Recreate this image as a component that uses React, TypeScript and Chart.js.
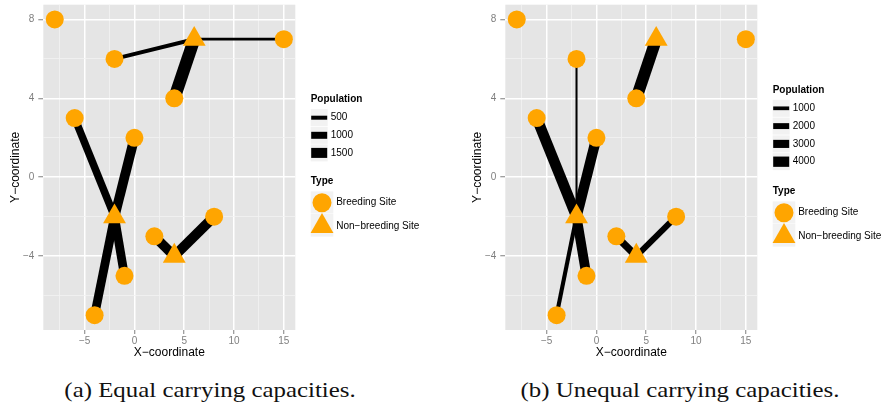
import React, { useEffect, useRef } from 'react';
import { Chart, registerables } from 'chart.js';

Chart.register(...registerables);

// ---------------- data ----------------
const breedingX = [-8, -2, 15, 4, -6, 0, -1, -4, 2, 8];
const breedingY = [8, 6, 7, 4, 3, 2, -5, -7, -3, -2];
const nonBreedingX = [6, -2, 4];
const nonBreedingY = [7, -2, -4];

// panel (a): edges breeding index -> non-breeding index, population
const edgesAFrom = [1, 2, 3, 4, 5, 6, 7, 8, 9];
const edgesATo = [0, 0, 0, 1, 1, 1, 1, 2, 2];
const edgesAPop = [500, 300, 1900, 1100, 1450, 1300, 1300, 1450, 1500];

// panel (b)
const edgesBFrom = [1, 3, 4, 5, 6, 7, 8, 9];
const edgesBTo = [1, 0, 1, 1, 1, 1, 2, 2];
const edgesBPop = [250, 4700, 4200, 4000, 3800, 1200, 2600, 2100];

const popLegendA = [500, 1000, 1500];
const popLegendB = [1000, 2000, 3000, 4000];
const typeLabels = ['Breeding Site', 'Non\u2212breeding Site'];

const xMajorTicks = [-5, 0, 5, 10, 15];
const xGridValues = [-7.5, -5, -2.5, 0, 2.5, 5, 7.5, 10, 12.5, 15];
const yMajorTicks = [-4, 0, 4, 8];
const yGridValues = [-6, -4, -2, 0, 2, 4, 6, 8];

const captionA = '(a) Equal carrying capacities.';
const captionB = '(b) Unequal carrying capacities.';

// ---------------- styles ----------------
const SANS = '"Liberation Sans", Arial, Helvetica, sans-serif';
const ORANGE = '#FFA500';
const CW = 426;
const CH = 362;

const fmt = (v: number) => (v < 0 ? '\u2212' + Math.abs(v) : String(v));

type LegendCfg = {
  keys: number[];
  lw: (p: number) => number;
  popTitleY: number;
  firstRowY: number;
  rowStep: number;
  typeTitleY: number;
};

function drawLegend(chart: any, cfg: LegendCfg) {
  const ctx: CanvasRenderingContext2D = chart.ctx;
  const x0 = 310.7;
  ctx.save();
  ctx.textBaseline = 'middle';
  ctx.textAlign = 'left';
  ctx.fillStyle = '#000';
  ctx.font = `bold 10px ${SANS}`;
  ctx.fillText('Population', x0, cfg.popTitleY);
  cfg.keys.forEach((p, i) => {
    const cy = cfg.firstRowY + i * cfg.rowStep;
    ctx.fillStyle = '#F2F2F2';
    ctx.fillRect(x0, cy - 8.5, 17, 17);
    ctx.fillStyle = '#000';
    const w = cfg.lw(p);
    ctx.fillRect(x0 + 0.5, cy - w / 2, 16, w);
    ctx.font = `10px ${SANS}`;
    ctx.fillText(String(p), x0 + 20, cy);
  });
  ctx.font = `bold 10px ${SANS}`;
  ctx.fillStyle = '#000';
  ctx.fillText('Type', x0, cfg.typeTitleY);
  const k = 22.6;
  const r1 = cfg.typeTitleY + 21;
  const r2 = r1 + k;
  ctx.fillStyle = '#F2F2F2';
  ctx.fillRect(x0, r1 - k / 2, k, k - 0.5);
  ctx.fillRect(x0, r2 - k / 2, k, k);
  ctx.fillStyle = ORANGE;
  ctx.beginPath();
  ctx.arc(x0 + k / 2, r1, 9.5, 0, Math.PI * 2);
  ctx.fill();
  const tr = 13.2;
  const cx = x0 + k / 2;
  const cy = r2 + 1;
  ctx.beginPath();
  for (let i = 0; i < 3; i++) {
    const a = (i * 2 * Math.PI) / 3;
    const px = cx + Math.sin(a) * tr;
    const py = cy - Math.cos(a) * tr;
    if (i === 0) ctx.moveTo(px, py);
    else ctx.lineTo(px, py);
  }
  ctx.closePath();
  ctx.fill();
  ctx.fillStyle = '#000';
  ctx.font = `10px ${SANS}`;
  ctx.fillText(typeLabels[0], x0 + 25.5, r1);
  ctx.fillText(typeLabels[1], x0 + 25.5, r2 + 0.5);
  ctx.restore();
}

type PanelProps = {
  from: number[];
  to: number[];
  pops: number[];
  legend: LegendCfg;
  left: number;
};

function Panel({ from, to, pops, legend, left }: PanelProps) {
  const ref = useRef<HTMLCanvasElement | null>(null);
  useEffect(() => {
    if (!ref.current) return;
    const edgeSets = from.map((b, i) => ({
      type: 'line' as const,
      data: [
        { x: breedingX[b], y: breedingY[b] },
        { x: nonBreedingX[to[i]], y: nonBreedingY[to[i]] },
      ],
      showLine: true,
      borderColor: '#000',
      borderWidth: legend.lw(pops[i]),
      borderCapStyle: 'butt' as const,
      pointRadius: 0,
      pointHoverRadius: 0,
      fill: false,
      order: 2,
    }));
    const datasets: any[] = [
      {
        type: 'scatter',
        data: breedingX.map((x, i) => ({ x, y: breedingY[i] })),
        pointStyle: 'circle',
        pointRadius: 9,
        pointHoverRadius: 9,
        backgroundColor: ORANGE,
        borderWidth: 0,
        order: 0,
      },
      {
        type: 'scatter',
        data: nonBreedingX.map((x, i) => ({ x, y: nonBreedingY[i] })),
        pointStyle: 'triangle',
        pointRadius: 13.2,
        pointHoverRadius: 13.2,
        backgroundColor: ORANGE,
        borderWidth: 0,
        order: 1,
      },
      ...edgeSets,
    ];
    const bgPlugin = {
      id: 'panelBg',
      beforeDraw(chart: any) {
        const { ctx, chartArea } = chart;
        ctx.save();
        ctx.fillStyle = '#E5E5E5';
        ctx.fillRect(chartArea.left, chartArea.top, chartArea.right - chartArea.left, chartArea.bottom - chartArea.top);
        ctx.restore();
      },
      afterDraw(chart: any) {
        drawLegend(chart, legend);
      },
    };
    const chart = new Chart(ref.current, {
      type: 'scatter',
      data: { datasets },
      plugins: [bgPlugin],
      options: {
        responsive: false,
        animation: false,
        events: [],
        layout: { autoPadding: false, padding: { left: 0, top: 4.7, right: CW - 295.3, bottom: 0 } },
        plugins: { legend: { display: false }, tooltip: { enabled: false } },
        scales: {
          x: {
            type: 'linear',
            min: -9.15,
            max: 16.15,
            afterBuildTicks: (s: any) => {
              s.ticks = xGridValues.map((v) => ({ value: v }));
            },
            afterFit: (s: any) => {
              s.height = CH - 330;
              s.paddingLeft = 0;
              s.paddingRight = 0;
              s.paddingTop = 0;
              s.paddingBottom = 0;
            },
            ticks: {
              autoSkip: false,
              maxRotation: 0,
              padding: 1,
              color: '#7F7F7F',
              font: { family: SANS, size: 10 },
              callback: (v: any) => (xMajorTicks.includes(Number(v)) ? fmt(Number(v)) : ''),
            },
            grid: {
              color: (c: any) => (xMajorTicks.includes(c.tick?.value) ? '#FFFFFF' : '#F2F2F2'),
              lineWidth: (c: any) => (xMajorTicks.includes(c.tick?.value) ? 1.5 : 0.8),
              tickColor: (c: any) => (xMajorTicks.includes(c.tick?.value) ? '#7F7F7F' : 'rgba(0,0,0,0)'),
              tickLength: 4,
              tickWidth: 1,
            },
            border: { display: false },
            title: {
              display: true,
              text: 'X\u2212coordinate',
              color: '#000',
              font: { family: SANS, size: 12 },
              padding: { top: 0, bottom: 2 },
            },
          },
          y: {
            type: 'linear',
            min: -7.75,
            max: 8.75,
            afterBuildTicks: (s: any) => {
              s.ticks = yGridValues.map((v) => ({ value: v }));
            },
            afterFit: (s: any) => {
              s.width = 43.3;
              s.paddingLeft = 0;
              s.paddingRight = 0;
              s.paddingTop = 0;
              s.paddingBottom = 0;
            },
            ticks: {
              autoSkip: false,
              padding: 4,
              color: '#7F7F7F',
              font: { family: SANS, size: 10 },
              callback: (v: any) => (yMajorTicks.includes(Number(v)) ? fmt(Number(v)) : ''),
            },
            grid: {
              color: (c: any) => (yMajorTicks.includes(c.tick?.value) ? '#FFFFFF' : '#F2F2F2'),
              lineWidth: (c: any) => (yMajorTicks.includes(c.tick?.value) ? 1.5 : 0.8),
              tickColor: (c: any) => (yMajorTicks.includes(c.tick?.value) ? '#7F7F7F' : 'rgba(0,0,0,0)'),
              tickLength: 5,
              tickWidth: 1,
            },
            border: { display: false },
            title: {
              display: true,
              text: 'Y\u2212coordinate',
              color: '#000',
              font: { family: SANS, size: 12 },
              padding: { top: 8, bottom: 0 },
            },
          },
        },
      } as any,
    });
    return () => chart.destroy();
  }, []);
  return (
    <canvas
      ref={ref}
      width={CW}
      height={CH}
      style={{ position: 'absolute', left, top: 0, width: CW, height: CH }}
    />
  );
}

const legendA: LegendCfg = {
  keys: popLegendA,
  lw: (p) => 1 + 0.006 * p,
  popTitleY: 99.3,
  firstRowY: 117.7,
  rowStep: 17.6,
  typeTitleY: 181.7,
};

const legendB: LegendCfg = {
  keys: popLegendB,
  lw: (p) => 1.5 + 0.0022 * p,
  popTitleY: 90,
  firstRowY: 108.3,
  rowStep: 17.8,
  typeTitleY: 191.7,
};

const capStyle: React.CSSProperties = {
  position: 'absolute',
  top: 375,
  width: 420,
  textAlign: 'center',
  fontFamily: '"Liberation Serif", "Times New Roman", serif',
  fontSize: 22,
  lineHeight: '30px',
  color: '#111',
  whiteSpace: 'nowrap',
  transform: 'scaleX(1.13)',
  transformOrigin: '50% 50%',
};

export default function App() {
  return (
    <div style={{ position: 'fixed', left: 0, top: 0, width: 888, height: 413, background: '#fff', overflow: 'hidden' }}>
      <Panel from={edgesAFrom} to={edgesATo} pops={edgesAPop} legend={legendA} left={0} />
      <Panel from={edgesBFrom} to={edgesBTo} pops={edgesBPop} legend={legendB} left={462.4} />
      <div style={{ ...capStyle, left: 210 - 210 }}>{captionA}</div>
      <div style={{ ...capStyle, left: 680 - 210 }}>{captionB}</div>
    </div>
  );
}
